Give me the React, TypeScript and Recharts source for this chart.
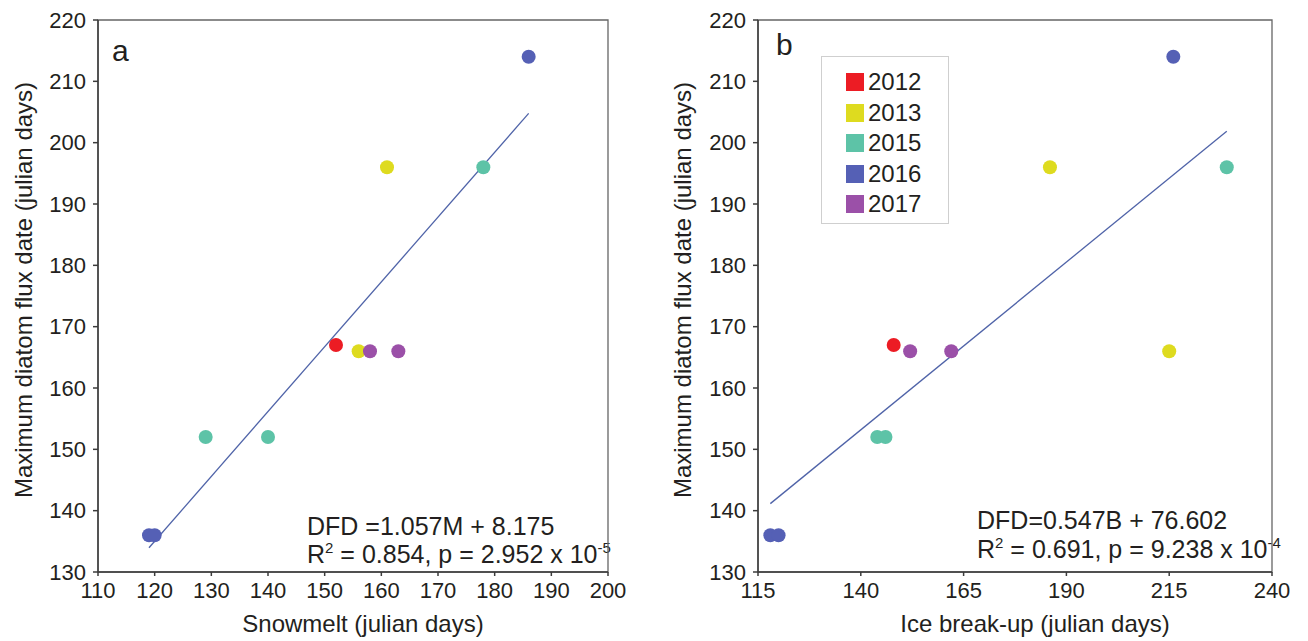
import { ScatterChart, Scatter, XAxis, YAxis, ReferenceLine, ReferenceArea, Legend, Customized } from 'recharts'

const years = ['2012', '2013', '2015', '2016', '2017']
const colors = ['#EC1C24', '#DEDB1F', '#5DC3A7', '#5560B5', '#9B50A8']

// maximum diatom flux date per year
const dfd2012 = [167]
const dfd2013 = [196, 166]
const dfd2015 = [196, 152, 152]
const dfd2016 = [214, 136, 136]
const dfd2017 = [166, 166]

// snowmelt date per year (panel a)
const snow2012 = [152]
const snow2013 = [161, 156]
const snow2015 = [178, 129, 140]
const snow2016 = [186, 119, 120]
const snow2017 = [158, 163]

// ice break-up date per year (panel b)
const ice2012 = [148]
const ice2013 = [186, 215]
const ice2015 = [229, 144, 146]
const ice2016 = [216, 118, 120]
const ice2017 = [152, 162]

const yTicks = [130, 140, 150, 160, 170, 180, 190, 200, 210, 220]
const xTicksA = [110, 120, 130, 140, 150, 160, 170, 180, 190, 200]
const xTicksB = [115, 140, 165, 190, 215, 240]

const fitA = { slope: 1.057, intercept: 8.175, from: 119, to: 186 }
const fitB = { slope: 0.547, intercept: 76.602, from: 118, to: 229 }

const dfdByYear = [dfd2012, dfd2013, dfd2015, dfd2016, dfd2017]
const snowByYear = [snow2012, snow2013, snow2015, snow2016, snow2017]
const iceByYear = [ice2012, ice2013, ice2015, ice2016, ice2017]

const font = '"Liberation Sans", Arial, sans-serif'
const textColor = '#231F20'
const axisColor = '#3c3c3c'
const lineColor = '#4F63A8'

const toPoints = (xs: number[], ys: number[]) => xs.map((x, i) => ({ x, y: ys[i] }))

const Dot = (props: any) => <circle cx={props.cx} cy={props.cy} r={7} fill={props.fill} />

const tickStyle = { fontSize: 22, fill: textColor, fontFamily: font }

function Texts({ letter, letterX, letterY, yTitleX, xTitle, xTitleX, eq, eqX, eqY1, eqY2, sup }: any) {
  return (
    <g fontFamily={font} fill={textColor}>
      <text x={letterX} y={letterY} fontSize={30}>{letter}</text>
      <text
        x={yTitleX}
        y={290}
        fontSize={24}
        textAnchor="middle"
        transform={`rotate(-90 ${yTitleX} 290)`}
        dominantBaseline="central"
      >
        Maximum diatom flux date (julian days)
      </text>
      <text x={xTitleX} y={632} fontSize={24} textAnchor="middle">{xTitle}</text>
      <text x={eqX} y={eqY1} fontSize={25}>{eq}</text>
      <text x={eqX} y={eqY2} fontSize={25}>
        R<tspan fontSize={15} dy={-10}>2</tspan>
        <tspan dy={10}>{` = ${sup.r2}, p = ${sup.p} x 10`}</tspan>
        <tspan fontSize={15} dy={-10}>{sup.exp}</tspan>
      </text>
    </g>
  )
}

function LegendBox() {
  return (
    <div
      style={{
        width: 128,
        height: 168,
        border: '1px solid #cfcfcf',
        boxSizing: 'border-box',
        paddingTop: 10,
        paddingLeft: 24,
        background: '#fff',
        fontFamily: font,
      }}
    >
      {years.map((yr, i) => (
        <div key={yr} style={{ display: 'flex', alignItems: 'center', height: 30.5 }}>
          <span style={{ width: 18, height: 18, background: colors[i], display: 'inline-block', marginRight: 4 }} />
          <span style={{ fontSize: 24, color: textColor }}>{yr}</span>
        </div>
      ))}
    </div>
  )
}

export default function App() {
  return (
    <div style={{ position: 'absolute', left: 0, top: 0, width: 1308, height: 641, background: '#fff', fontFamily: font }}>
      <div style={{ position: 'absolute', left: 0, top: 0 }}>
        <ScatterChart width={640} height={641} margin={{ top: 20, right: 32, bottom: 0, left: 0 }}>
          <ReferenceArea x1={110} x2={200} y1={130} y2={220} fill="none" stroke="#666" strokeWidth={1.3} ifOverflow="visible" />
          <XAxis
            type="number"
            dataKey="x"
            domain={[110, 200]}
            ticks={xTicksA}
            height={69}
            tick={tickStyle}
            tickSize={4}
            tickMargin={6}
            stroke={axisColor}
            strokeWidth={1.5}
            interval={0}
          />
          <YAxis
            type="number"
            dataKey="y"
            domain={[130, 220]}
            ticks={yTicks}
            width={98}
            tick={tickStyle}
            tickSize={5}
            tickMargin={7}
            stroke={axisColor}
            strokeWidth={1.5}
            interval={0}
          />
          <ReferenceLine
            segment={[
              { x: fitA.from, y: fitA.slope * fitA.from + fitA.intercept },
              { x: fitA.to, y: fitA.slope * fitA.to + fitA.intercept },
            ]}
            stroke={lineColor}
            strokeWidth={1.3}
            ifOverflow="visible"
          />
          {years.map((yr, i) => (
            <Scatter
              key={yr}
              name={yr}
              data={toPoints(snowByYear[i], dfdByYear[i])}
              fill={colors[i]}
              shape={Dot}
              isAnimationActive={false}
            />
          ))}
          <Customized
            component={
              <Texts
                letter="a"
                letterX={112}
                letterY={61}
                yTitleX={23}
                xTitle="Snowmelt (julian days)"
                xTitleX={363}
                eq="DFD =1.057M + 8.175"
                eqX={307}
                eqY1={535}
                eqY2={563}
                sup={{ r2: '0.854', p: '2.952', exp: '-5' }}
              />
            }
          />
        </ScatterChart>
      </div>
      <div style={{ position: 'absolute', left: 654, top: 0 }}>
        <ScatterChart width={654} height={641} margin={{ top: 20, right: 36, bottom: 0, left: 0 }}>
          <ReferenceArea x1={115} x2={240} y1={130} y2={220} fill="none" stroke="#666" strokeWidth={1.3} ifOverflow="visible" />
          <XAxis
            type="number"
            dataKey="x"
            domain={[115, 240]}
            ticks={xTicksB}
            height={69}
            tick={tickStyle}
            tickSize={4}
            tickMargin={6}
            stroke={axisColor}
            strokeWidth={1.5}
            interval={0}
          />
          <YAxis
            type="number"
            dataKey="y"
            domain={[130, 220]}
            ticks={yTicks}
            width={104}
            tick={tickStyle}
            tickSize={5}
            tickMargin={7}
            stroke={axisColor}
            strokeWidth={1.5}
            interval={0}
          />
          <ReferenceLine
            segment={[
              { x: fitB.from, y: fitB.slope * fitB.from + fitB.intercept },
              { x: fitB.to, y: fitB.slope * fitB.to + fitB.intercept },
            ]}
            stroke={lineColor}
            strokeWidth={1.3}
            ifOverflow="visible"
          />
          {years.map((yr, i) => (
            <Scatter
              key={yr}
              name={yr}
              data={toPoints(iceByYear[i], dfdByYear[i])}
              fill={colors[i]}
              shape={Dot}
              isAnimationActive={false}
            />
          ))}
          <Legend
            layout="vertical"
            align="center"
            verticalAlign="middle"
            content={() => <LegendBox />}
            wrapperStyle={{ left: 167, top: 56, width: 128, height: 168 }}
          />
          <Customized
            component={
              <Texts
                letter="b"
                letterX={122}
                letterY={55}
                yTitleX={28}
                xTitle="Ice break-up (julian days)"
                xTitleX={381}
                eq="DFD=0.547B + 76.602"
                eqX={323}
                eqY1={529}
                eqY2={558}
                sup={{ r2: '0.691', p: '9.238', exp: '-4' }}
              />
            }
          />
        </ScatterChart>
      </div>
    </div>
  )
}
